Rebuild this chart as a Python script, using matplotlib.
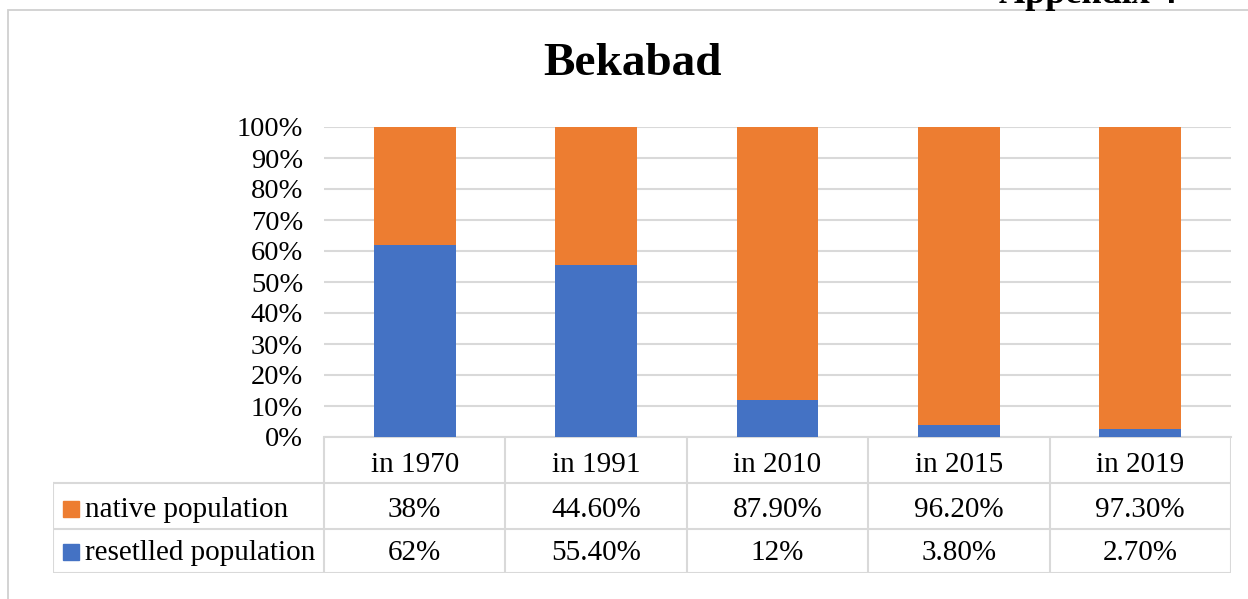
import matplotlib.pyplot as plt
from matplotlib.patches import Rectangle

# Data
years = ["in 1970", "in 1991", "in 2010", "in 2015", "in 2019"]
resettled = [62, 55.4, 12, 3.8, 2.7]
native = [38, 44.6, 87.9, 96.2, 97.3]
native_labels = ["38%", "44.60%", "87.90%", "96.20%", "97.30%"]
resettled_labels = ["62%", "55.40%", "12%", "3.80%", "2.70%"]
series_names = ["native population", "resetlled population"]

orange = "#ED7D31"
blue = "#4472C4"
grid_c = "#d9d9d9"

plt.rcParams["font.family"] = ["Liberation Serif", "DejaVu Serif"]

W, H = 1248, 599
fig = plt.figure(figsize=(W / 100, H / 100), dpi=100)

# chart frame (partly outside the picture)
fig.add_artist(Rectangle((8 / W, -0.1), 1.2, 1 - 10 / H + 0.1, transform=fig.transFigure,
                         fill=False, edgecolor="#d0d0d0", linewidth=1.3))
fig.text(1177 / W, 1 - 3 / H, "Appendix 4", ha="right", va="baseline",
         fontsize=26, fontweight="bold")
fig.text(633 / W, 1 - 75 / H, "Bekabad", ha="center", va="baseline",
         fontsize=34, fontweight="bold")

# bar area
x0, x1 = 324, 1231
ytop, ybot = 127, 437
ax = fig.add_axes([x0 / W, 1 - ybot / H, (x1 - x0) / W, (ybot - ytop) / H])
xs = range(len(years))
ax.bar(xs, resettled, width=0.45, color=blue, zorder=3)
ax.bar(xs, native, width=0.45, bottom=resettled, color=orange, zorder=3)
ax.set_xlim(-0.5, len(years) - 0.5)
ax.set_ylim(0, 100)
ax.set_yticks(range(0, 101, 10))
ax.set_yticklabels([f"{v}%" for v in range(0, 101, 10)], fontsize=20.5)
ax.tick_params(axis="y", length=0, pad=15)
ax.set_xticks([])
ax.grid(axis="y", color=grid_c, linewidth=1.5, zorder=0)
for s in ["top", "right", "left"]:
    ax.spines[s].set_visible(False)
ax.spines["bottom"].set_color(grid_c)
ax.spines["bottom"].set_linewidth(1.5)

# data table below
label_w = (x0 - 53) / ((x1 - x0) / len(years))
tb = fig.add_axes([53 / W, 1 - 573 / H, (x1 - 53) / W, (573 - ybot) / H])
tb.set_xlim(-0.5 - label_w, len(years) - 0.5)
tb.set_ylim(0, 3.1)
tb.axis("off")
lc = dict(color=grid_c, linewidth=1.5)
for yy in [0, 1, 2.05]:
    tb.plot([-0.5 - label_w, len(years) - 0.5], [yy, yy], **lc)
tb.plot([-0.5 - label_w, -0.5 - label_w], [0, 2.05], **lc)
for i in range(len(years) + 1):
    tb.plot([i - 0.5, i - 0.5], [0, 3.1], **lc)
fs = 21
for i, yr in enumerate(years):
    tb.text(i, 2.47, yr, ha="center", va="center", fontsize=fs)
    tb.text(i, 1.43, native_labels[i], ha="center", va="center", fontsize=fs)
    tb.text(i, 0.45, resettled_labels[i], ha="center", va="center", fontsize=fs)
for yy, name, c in [(1.45, series_names[0], orange), (0.47, series_names[1], blue)]:
    tb.plot([-0.5 - label_w + 0.1], [yy], marker="s", markersize=11, color=c, linestyle="none")
    tb.text(-0.5 - label_w + 0.175, yy - 0.02, name, ha="left", va="center", fontsize=fs)

fig.savefig("out.png", dpi=100)
